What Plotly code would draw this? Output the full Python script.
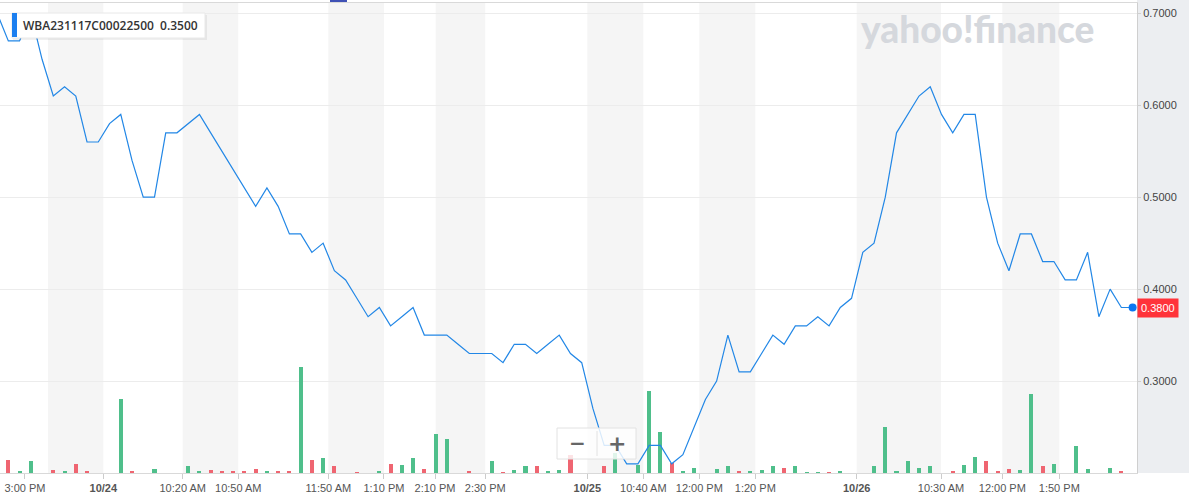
import plotly.graph_objects as go

# ---------------- data ----------------
# sample index (intraday bars, evenly spaced)
idx = list(range(-1, 101))

price = [0.70, 0.67, 0.67, 0.70, 0.65, 0.61, 0.62, 0.61, 0.56, 0.56,
         0.58, 0.59, 0.54, 0.50, 0.50, 0.57, 0.57, 0.58, 0.59, 0.57,
         0.55, 0.53, 0.51, 0.49, 0.51, 0.49, 0.46, 0.46, 0.44, 0.45,
         0.42, 0.41, 0.39, 0.37, 0.38, 0.36, 0.37, 0.38, 0.35, 0.35,
         0.35, 0.34, 0.33, 0.33, 0.33, 0.32, 0.34, 0.34, 0.33, 0.34,
         0.35, 0.33, 0.32, 0.27, 0.23, 0.23, 0.21, 0.21, 0.23, 0.23,
         0.21, 0.22, 0.25, 0.28, 0.30, 0.35, 0.31, 0.31, 0.33, 0.35,
         0.34, 0.36, 0.36, 0.37, 0.36, 0.38, 0.39, 0.44, 0.45, 0.50,
         0.57, 0.59, 0.61, 0.62, 0.59, 0.57, 0.59, 0.59, 0.50, 0.45,
         0.42, 0.46, 0.46, 0.43, 0.43, 0.41, 0.41, 0.44, 0.37, 0.40,
         0.38, 0.38]

volume = [0, 130, 13, 120, 0, 33, 13, 93, 13, 0,
          0, 740, 13, 0, 43, 0, 0, 73, 13, 33,
          23, 13, 13, 43, 13, 13, 23, 1060, 127, 153,
          73, 0, 10, 0, 13, 93, 83, 153, 43, 393,
          343, 0, 23, 0, 123, 5, 33, 73, 73, 13,
          33, 180, 0, 0, 73, 200, 0, 83, 817, 407,
          100, 13, 50, 0, 43, 73, 13, 13, 33, 73,
          50, 67, 7, 7, 7, 17, 0, 0, 73, 457,
          13, 117, 50, 73, 0, 13, 83, 157, 123, 13,
          43, 27, 793, 73, 93, 0, 267, 43, 0, 50,
          13, 0]

tick_labels = ["3:00 PM", "<b>10/24</b>", "10:20 AM", "10:50 AM", "11:50 AM",
               "1:10 PM", "2:10 PM", "2:30 PM", "<b>10/25</b>", "10:40 AM",
               "12:00 PM", "1:20 PM", "<b>10/26</b>", "10:30 AM", "12:00 PM",
               "1:50 PM"]
tick_pos = [1.48, 8.45, 15.51, 20.45, 28.46, 33.41, 37.95, 42.42, 51.50,
            56.48, 61.46, 66.44, 75.46, 82.96, 88.41, 93.48]

# shaded session bands (index units)
bands = [(3.53, 8.45), (15.51, 20.45), (28.46, 33.41), (38.01, 42.42),
         (51.50, 56.48), (61.46, 66.44), (75.46, 82.96), (88.41, 93.48)]

price_ticks = [0.3, 0.4, 0.5, 0.6, 0.7]
symbol = "WBA231117C00022500"
hover_price = "0.3500"
last_price = price[-1]

# ---------------- figure ----------------
W, H = 1189, 500
ML, MR, MT, MB = 0, 52, 3, 27
PW, PH = W - ML - MR, H - MT - MB


def px(x):
    return (x - ML) / PW


def py(y):
    return (H - MB - y) / PH


GREEN = "#4fbf8b"
RED = "#ef6571"
colors = [GREEN]
for i in range(1, len(price)):
    colors.append(RED if price[i] < price[i - 1] else GREEN)

fig = go.Figure()
fig.add_trace(go.Bar(x=idx, y=volume, marker=dict(color=colors, line=dict(width=0)),
                     width=0.36, yaxis="y", hoverinfo="skip", showlegend=False))
fig.add_trace(go.Scatter(x=idx, y=price, mode="lines", yaxis="y2",
                         line=dict(color="#2287e6", width=1.2), showlegend=False))
fig.add_trace(go.Scatter(x=[idx[-1]], y=[last_price], mode="markers", yaxis="y2",
                         marker=dict(color="#0b77f2", size=8), cliponaxis=False,
                         showlegend=False))

shapes = []
for a, b in bands:
    shapes.append(dict(type="rect", xref="x", yref="paper", x0=a, x1=b, y0=0, y1=1,
                       fillcolor="#f5f5f5", line=dict(width=0), layer="below"))
# right axis panel
shapes.append(dict(type="rect", xref="paper", yref="paper", x0=1, x1=W / PW, y0=0,
                   y1=1 + MT / PH, fillcolor="#eceef1", line=dict(width=0), layer="below"))
# small indicator at top
shapes.append(dict(type="rect", xref="paper", yref="paper", x0=px(330), x1=px(347),
                   y0=py(2), y1=py(0), fillcolor="#3f51b5", line=dict(width=0)))
# label box
shapes.append(dict(type="rect", xref="paper", yref="paper", x0=px(13), x1=px(207),
                   y0=py(40), y1=py(15), fillcolor="rgba(0,0,0,0.06)", line=dict(width=0),
                   layer="above"))
shapes.append(dict(type="rect", xref="paper", yref="paper", x0=px(12), x1=px(205),
                   y0=py(38), y1=py(13), fillcolor="white",
                   line=dict(color="#e8e8e8", width=1), layer="above"))
shapes.append(dict(type="rect", xref="paper", yref="paper", x0=px(12), x1=px(17),
                   y0=py(37), y1=py(13), fillcolor="#1c7ff0", line=dict(width=0),
                   layer="above"))
# zoom control box
shapes.append(dict(type="rect", xref="paper", yref="paper", x0=px(557), x1=px(636),
                   y0=py(459), y1=py(428), fillcolor="rgba(255,255,255,0.82)",
                   line=dict(color="#e2e2e2", width=1), layer="above"))
shapes.append(dict(type="line", xref="paper", yref="paper", x0=px(597), x1=px(597),
                   y0=py(456), y1=py(431), line=dict(color="#e2e2e2", width=1),
                   layer="above"))

annotations = [
    dict(xref="paper", yref="paper", x=px(21), y=py(25.5), xanchor="left", yanchor="middle",
         text=f"{symbol}  {hover_price}", showarrow=False,
         font=dict(family="Open Sans", size=12, color="#333", weight=600)),
    dict(xref="paper", yref="paper", x=px(977), y=py(29), xanchor="center", yanchor="middle",
         text="yahoo!finance", showarrow=False,
         font=dict(family="Lato", size=37, color="#d5d8dd", weight=900)),
    dict(xref="paper", yref="y2", x=1, y=last_price, xanchor="left", yanchor="middle",
         text=f"{last_price:.4f}", showarrow=False, bgcolor="#ff333a", borderpad=3,
         font=dict(family="Liberation Sans", size=11, color="white")),
    dict(xref="paper", yref="paper", x=px(577), y=py(443), xanchor="center", yanchor="middle",
         text="<b>−</b>", showarrow=False, font=dict(family="DejaVu Sans", size=20, color="#666")),
    dict(xref="paper", yref="paper", x=px(617), y=py(443), xanchor="center", yanchor="middle",
         text="<b>+</b>", showarrow=False, font=dict(family="DejaVu Sans", size=22, color="#666")),
]

fig.update_layout(
    width=W, height=H,
    margin=dict(l=ML, r=MR, t=MT, b=MB, pad=0),
    paper_bgcolor="white", plot_bgcolor="white",
    bargap=0, showlegend=False,
    xaxis=dict(range=[-0.741, 100.39], showgrid=False, zeroline=False,
               tickmode="array", tickvals=tick_pos, ticktext=tick_labels,
               ticks="outside", ticklen=5, tickcolor="#cccccc",
               showline=True, linecolor="#d9d9d9", mirror=True,
               tickfont=dict(family="Liberation Sans", size=11, color="#555")),
    yaxis=dict(range=[0, 4700], visible=False, showgrid=False, zeroline=False),
    yaxis2=dict(overlaying="y", side="right", range=[0.2, 0.7112],
                tickmode="array", tickvals=price_ticks,
                ticktext=[f"{v:.4f}" for v in price_ticks],
                showgrid=True, gridcolor="#ececec", zeroline=False,
                showline=True, linecolor="#cfcfcf",
                ticks="outside", ticklen=3, tickcolor="#cfcfcf",
                tickfont=dict(family="Liberation Sans", size=11, color="#444")),
    shapes=shapes,
    annotations=annotations,
)

fig.write_html("out.html",
               config={"displayModeBar": False},
               post_script="document.body.style.margin='0';"
                           "document.body.style.overflow='hidden';")
